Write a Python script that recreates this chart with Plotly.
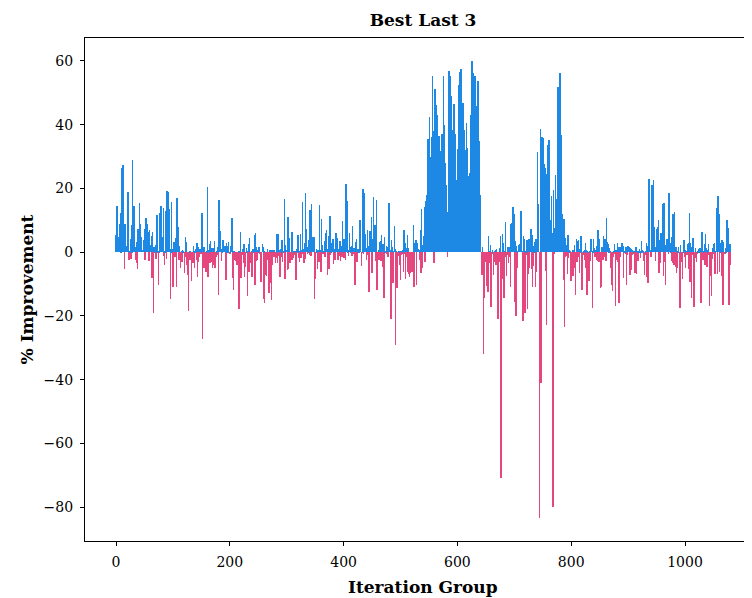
import plotly.graph_objects as go

# % improvement per iteration group in blocks of ~100 groups
group_000 = [5.4, 3.0, 14.5, 13.8, 1.0, 4.7, 8.8, 2.0, 12.2, 0.5, 26.3, 0.8, 27.4, 3.0, 5.7, -5.3, 8.8, 1.0, 2.0, 1.5,
	2.5, 18.9, 1.0, -2.5, 0.5, 4.3, -2.0, 8.5, 0.6, 29.0, 3.0, 13.5, 14.5, 1.5, -2.5, 0.8, 3.2, -3.5, -5.3, 7.2,
	2.0, 15.3, 1.2, 8.8, 1.2, 4.7, 0.8, 0.7, 3.8, 1.0, 7.4, -2.4, 10.4, 10.6, 2.0, 8.8, 0.9, 6.2, -2.8, 7.1,
	1.0, 2.3, 5.1, -8.2, 6.4, 1.0, -19.2, 1.7, 0.5, 2.3, -2.0, 7.4, 11.7, 1.5, 0.2, -10.3, 0.5, 12.2, 3.0, 14.5,
	4.7, 1.0, 4.7, 13.8, -1.2, -4.0, 0.5, 2.3, 12.8, -2.1, 19.2, 2.0]
group_092 = [18.9, 2.0, 13.5, 1.0, -14.8, 0.5, 15.7, 1.0, -10.8, -1.0, 3.2, 0.6, -1.4, 4.4, -10.8, 17.0, 1.2, 5.8, 7.9, -2.5,
	1.9, -4.8, -1.1, 0.5, -3.0, 0.6, 0.4, 0.3, -6.4, -1.5, 4.7, 0.8, 3.2, -4.0, -7.2, -18.4, -2.0, -2.5, 0.4, -2.3,
	-0.8, -8.9, -1.0, -3.5, 1.9, -1.4, -5.0, 0.5, 0.9, -2.5, 2.8, -7.7, 1.7, -3.0, 0.9, -1.4, 0.9, -0.6, 0.3, 12.3,
	-27.1, -1.0, 1.6, -4.8, 1.6, -2.5, -6.1, -2.7, 0.5, 20.4, -7.7, 0.6, 2.5, -3.5, 3.5, -3.0, 0.7, 1.3, -4.8, 1.3,
	-4.0, 3.5, -5.0, -3.0, -1.4, 0.4, 1.7, -0.9, -13.4, 16.4, 1.0, 2.6, 6.5, -2.7, 1.0, 0.5, 3.8, 3.8, 1.2, 2.1]
group_192 = [1.9, -8.7, 2.9, 0.5, 1.9, 0.6, 3.2, -0.6, -0.4, 0.3, 1.9, 0.8, 10.7, -8.0, -11.7, 0.5, -1.2, -2.5, -1.0, -2.7,
	-0.8, -4.0, -0.5, 0.4, -17.9, -1.2, 0.3, 6.3, -8.2, -2.7, -1.0, 0.9, -3.5, 2.5, -7.7, -4.6, -0.6, 1.2, 0.4, -13.8,
	-1.0, 2.5, -6.1, 4.4, -3.5, -1.9, 0.4, -7.7, -0.8, 0.9, 0.5, 5.3, -10.3, 6.0, 1.7, -2.8, -2.3, 0.7, 0.3, 1.5,
	-0.6, -0.3, -8.7, -9.2, -1.2, 2.5, 1.7, -14.8, 0.2, -15.9, -2.0, -7.2, -7.5, -1.5, 0.9, -2.5, -4.9, -12.7, -3.0, 0.7,
	-9.8, -15.0, 0.7, -4.0, -1.4, -0.5, 0.7, -1.4, -3.5, -1.9, 0.4, 5.7, -3.3, -1.2, 5.7, 0.8, -7.7, 0.9, -1.4, 0.4]
group_292 = [3.8, -3.0, -0.2, 0.5, 16.7, -8.3, 2.3, 0.8, 0.7, -5.6, 11.0, -5.2, 4.4, -1.4, -3.3, -0.5, 6.3, -2.5, 6.3, -1.6,
	-1.9, 0.3, -0.9, 0.4, -8.7, -1.0, 0.9, 0.5, 5.4, -1.9, -3.0, 0.4, 5.7, -1.9, 0.6, -0.3, 15.7, 1.0, -3.5, 2.8,
	-2.2, 18.7, 1.5, 7.2, 1.5, -0.4, 0.6, 3.8, -0.9, 13.2, 5.9, -1.1, 15.1, 0.8, 4.8, 0.8, 4.8, -14.8, -8.5, -1.2,
	0.9, 0.4, -5.2, 0.7, 0.3, -3.0, 14.7, 0.6, -6.1, 10.4, 1.2, 2.3, -0.6, 0.5, 3.5, -1.4, 0.8, 6.0, 6.9, 1.0,
	-7.1, 5.2, -5.2, 7.9, 11.3, -1.0, 3.0, 0.5, 1.2, 4.1, -3.8, 0.9, -2.3, 0.4, -2.3, 6.0, 1.0, 4.6, -2.5, 0.7]
group_392 = [0.9, -1.2, 3.5, -2.7, 1.9, -1.6, 9.8, 0.5, 4.3, -1.9, 4.3, -2.3, 21.4, 2.0, 16.1, 4.3, 0.6, -1.2, 6.0, 1.5,
	0.6, 0.3, 1.9, -1.2, 8.2, -0.6, 1.2, -6.4, -10.3, 3.2, -3.1, 4.1, -3.1, 0.9, 0.4, 0.6, 0.4, 10.1, 4.1, -4.3,
	-0.2, 0.5, 19.8, -0.6, 1.0, 18.6, 5.7, 1.2, -2.5, -0.8, 7.0, 2.0, 1.7, -12.4, 6.6, 6.0, 2.0, 11.0, -6.4, 0.5,
	4.1, 17.3, 3.0, 8.5, 2.5, -2.7, 16.4, -11.9, -3.5, 0.7, -2.3, 3.2, -1.2, 3.5, -2.7, 5.4, -4.6, 2.5, -6.4, -14.5,
	4.7, 0.5, -0.2, 1.9, -0.6, 1.7, -1.6, 5.1, 15.3, 1.0, 0.6, -20.8, 3.8, -5.4, 1.5, -9.8, 0.3, 8.2, 1.0, -29.1]
group_492 = [-4.0, 0.5, -11.3, -2.0, 0.3, -1.2, -4.0, 0.4, -8.7, -1.0, 0.2, -0.4, 0.6, -6.1, 7.0, -0.6, 2.9, -8.5, 1.2, -1.4,
	5.4, -6.1, 1.2, -6.9, -7.7, -1.5, -6.4, -3.0, -6.1, -5.6, -2.0, 8.5, -10.8, 2.9, 1.0, 3.8, -10.3, 1.2, 2.9, 0.8,
	1.0, -2.5, 0.6, 7.0, -6.6, 13.5, -4.8, 2.3, 5.1, 2.0, 14.3, -3.0, 16.1, 11.0, 17.9, 10.0, 35.6, 24.0, 24.8, 42.5,
	30.0, 23.2, 36.0, 22.0, 55.3, 38.0, 3.8, -3.3, 37.8, 51.1, 40.0, 46.2, 43.1, 30.0, 31.8, 20.0, 36.5, 17.7, 12.0, 31.7,
	25.0, 37.1, 22.3, 15.0, 55.3, 39.9, 28.0, 12.5, 21.1, 14.0, 12.5, -1.6, 20.0, 56.9, 42.0, 55.3, 40.0, 49.0, 43.4, 30.0]
group_592 = [38.3, 28.0, 46.5, 35.0, 37.1, 26.0, 22.7, 18.0, 32.4, 24.0, 52.5, 40.0, 56.5, 44.0, 57.5, 45.0, 40.2, 30.0, 46.8, 33.0,
	38.3, 28.0, 32.1, 22.0, 40.5, 30.0, 32.7, 24.0, 20.6, 15.0, 25.0, 19.0, 43.0, 32.0, 60.0, 48.0, 56.2, 54.7, 40.0, 55.3,
	38.0, 11.4, 45.9, 34.0, 53.7, 28.9, 20.0, 34.9, 18.0, 1.0, -3.1, -7.2, 1.6, -3.5, -32.0, -5.0, -14.5, -3.0, -1.0, -10.5,
	-8.0, -4.0, -12.6, 5.1, 0.5, -3.5, 2.3, -17.3, -9.8, -0.4, 0.6, -7.1, -2.0, 0.4, -3.0, 0.7, -4.0, 1.0, -0.4, -20.8,
	-1.9, -0.5, 1.3, -3.0, 5.1, -70.7, -2.0, 5.7, -8.3, 2.8, -14.3, 0.3, -1.4, 9.5, -7.5, -1.0, -0.6, 1.7, -3.3, -1.4]
group_692 = [1.7, -10.8, 8.8, 3.0, 9.3, 4.0, 14.2, 5.0, 12.0, -15.5, 3.5, -20.0, 1.9, -5.0, 0.4, 0.9, 2.3, 0.8, 2.6, 1.2,
	12.9, 2.0, 0.4, -21.5, 5.1, -4.3, 4.1, -19.2, 0.4, -0.8, 3.8, -17.8, 0.2, -6.9, 4.1, -5.0, 3.3, 7.2, -5.4, 5.4,
	-10.8, 1.9, -4.3, 0.5, 3.2, -11.0, 4.1, -6.1, 4.1, 31.4, 8.0, 15.1, -83.4, -3.0, 38.7, -41.1, 21.6, 36.0, 20.0, 35.7,
	27.7, 18.0, 26.3, -5.8, 24.5, -22.9, 33.6, 23.3, 15.0, 35.2, 21.6, 10.0, 0.9, 17.6, 6.0, 3.5, -79.8, 19.5, -0.6, 7.5,
	24.2, 12.0, 0.7, 16.7, 8.0, 51.9, 30.0, 43.0, 56.3, 40.0, 32.1, 36.8, 12.0, 4.1, -8.7, 10.4, -23.6, 4.6, -1.4, -1.2]
group_792 = [2.3, -6.9, 5.4, -1.9, 0.7, 0.4, 0.4, -1.2, -8.9, -1.0, 0.7, -7.5, 0.7, -5.0, 2.3, -0.6, -13.4, 4.0, -3.0, 3.6,
	-1.4, 3.8, 1.0, -6.4, 0.5, 5.1, 0.6, -11.9, -1.0, -0.9, 0.3, -2.3, 0.6, 3.0, -5.0, 0.7, -13.4, 0.2, -0.5, -8.9,
	-1.5, 0.4, -2.7, 4.1, 0.8, -17.4, 0.5, 4.1, 1.2, 0.2, -1.4, 0.7, -2.5, 1.9, -2.7, 7.0, 2.8, -3.2, 4.3, -11.1,
	-1.0, -10.8, 1.6, 0.5, -2.5, 5.1, -1.4, 4.1, 1.0, -2.7, 10.7, 3.0, 3.2, 2.6, 0.6, 1.3, 0.4, -3.8, -5.0, -10.3,
	-4.0, -12.1, -1.4, 0.4, 2.6, -0.6, -16.8, 0.7, -2.5, 2.8, -3.1, 1.7, -15.9, -6.4, 1.7, -1.6, 1.6, 3.0, 0.8, 2.0]
group_892 = [-8.0, 0.4, 0.4, -0.5, 1.7, -10.3, -0.9, 0.3, 2.1, 0.8, 1.5, -7.2, 1.2, -5.6, 0.9, -0.9, 0.7, -0.6, 0.2, -4.8,
	-6.6, -1.0, 1.7, -6.9, 0.4, -2.7, -2.3, 0.3, 1.0, 0.4, -1.9, 0.5, 3.5, 0.6, 0.2, -1.9, -2.7, -7.0, -0.8, 0.2,
	2.9, -7.9, 1.9, -9.6, 10.7, 22.9, 4.0, 0.7, -1.4, 3.2, 21.1, 6.0, 15.7, 22.7, 8.0, 1.7, -2.8, 0.7, 7.2, 2.0,
	8.0, 10.1, -6.6, 3.8, -3.5, 4.6, 6.1, 2.0, 5.6, 15.1, -7.5, 15.3, -3.0, 2.3, -10.2, 0.7, 4.3, 1.0, 4.1, -0.4,
	18.5, 7.5, 3.0, 0.2, -2.7, 4.9, -3.5, 12.0, 8.8, -4.0, 12.6, -4.5, 1.7, -6.6, -1.4, -5.0, 0.5, 1.7, -5.6, -17.6]
group_992 = [2.3, -1.2, -3.0, -0.5, -8.5, 0.5, 3.8, -1.4, 0.7, -4.9, 0.4, -0.9, 2.6, -0.9, 2.8, -5.4, 12.3, -9.2, 3.0, -14.5,
	1.7, -0.9, 4.5, -9.5, -17.3, -1.0, 1.2, -1.9, -3.2, -0.5, -0.4, 0.5, 1.0, 0.6, 1.2, 0.4, -16.0, -2.0, 6.3, -0.6,
	-2.3, 0.4, 2.6, -4.0, 5.7, -0.4, 1.2, -4.6, 0.6, 2.6, -0.9, -16.9, -5.2, -1.0, -7.5, -13.6, -2.0, 1.2, 2.6, -0.6,
	2.8, -6.9, 0.5, 2.5, 13.9, -6.7, 17.6, 5.0, 12.0, -6.1, 0.6, 2.8, -7.5, 3.8, -6.1, -16.6, 3.1, -0.6, -0.4, 1.2,
	0.5, 9.5, 10.1, 4.0, 7.6, -16.6, 1.0, 2.6, -4.0]

improvement = (group_000 + group_092 + group_192 + group_292 + group_392 + group_492
	+ group_592 + group_692 + group_792 + group_892 + group_992)
iteration_group = list(range(len(improvement)))

x_ticks = [0, 200, 400, 600, 800, 1000]
y_ticks = [-80, -60, -40, -20, 0, 20, 40, 60]

POSITIVE_COLOR = '#1E88E5'
NEGATIVE_COLOR = '#E5467E'
FONT = 'DejaVu Serif'

# the page puts the figure 8 px from the window's top-left corner, so sizes below account for that;
# the right end of the axes runs past the window edge, as in the reference
fig = go.Figure(
	go.Bar(
		x = iteration_group,
		y = improvement,
		width = 0.8,
		marker = dict(
			color = [POSITIVE_COLOR if v >= 0 else NEGATIVE_COLOR for v in improvement],
			line = dict(width = 0),
		),
		hovertemplate = 'group %{x}<br>%{y:.1f} %<extra></extra>',
	)
)
axis_style = dict(
	showgrid = False,
	zeroline = False,
	showline = True,
	linecolor = 'black',
	linewidth = 1.2,
	ticks = 'outside',
	ticklen = 4,
	tickcolor = 'black',
	ticklabelstandoff = 4,
	tickfont = dict(family = FONT, size = 14, color = 'black'),
)
fig.update_xaxes(
	**axis_style,
	mirror = True,
	range = [-54.5, 1131.8],
	tickvals = x_ticks,
)
fig.update_yaxes(
	**axis_style,
	range = [-90.6, 67.2],
	tickvals = y_ticks,
	title = dict(text = '<b>% Improvement</b>', font = dict(family = FONT, size = 17, color = 'black'), standoff = 5),
)
fig.update_layout(
	width = 752,
	height = 590,
	margin = dict(l = 77, r = 0, t = 30, b = 57),
	plot_bgcolor = 'white',
	paper_bgcolor = 'white',
	bargap = 0,
	showlegend = False,
	title = dict(
		text = '<b>Best Last 3</b>',
		font = dict(family = FONT, size = 17, color = 'black'),
		x = 415/752,
		xanchor = 'center',
		y = 1 - 12/590,
		yanchor = 'middle',
	),
	annotations = [
		dict(
			text = '<b>Iteration Group</b>',
			font = dict(family = FONT, size = 17, color = 'black'),
			xref = 'paper', yref = 'paper',
			x = (423-85)/675, y = -46/503,
			xanchor = 'center', yanchor = 'middle',
			showarrow = False,
		),
	],
)
fig.write_html('out.html')
